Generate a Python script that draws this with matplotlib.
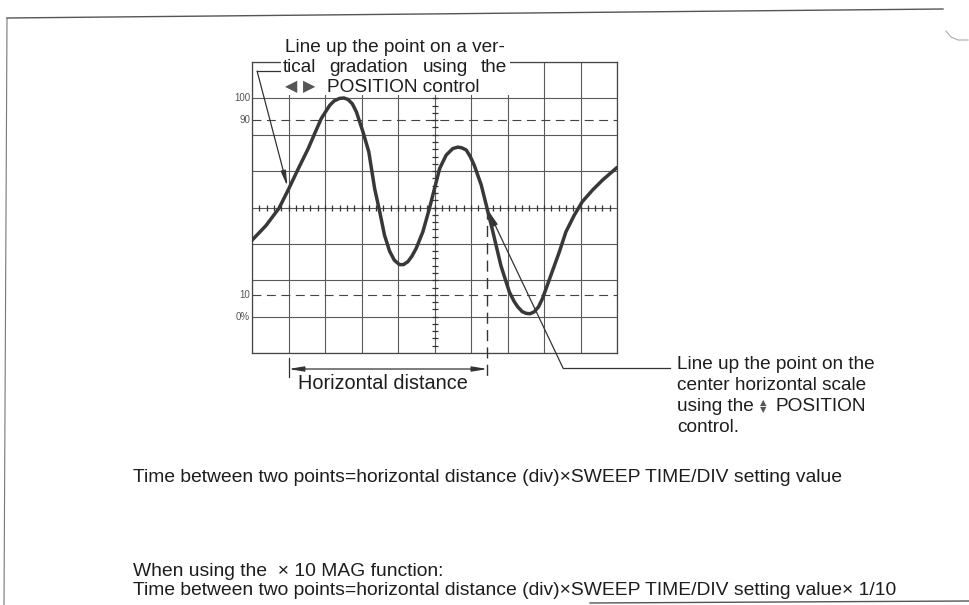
import numpy as np
import matplotlib
matplotlib.use("Agg")
import matplotlib.pyplot as plt
from matplotlib.patches import Rectangle

# ---------------- data (graticule divisions) ----------------
wave_x = [0.0, 0.38, 0.74, 1.0, 1.27, 1.54, 1.72, 1.90, 2.13, 2.25, 2.40, 2.52, 2.63,
          2.75, 2.86, 3.04, 3.20, 3.36, 3.50, 3.63, 3.77, 3.90, 4.04, 4.15, 4.27, 4.38,
          4.50, 4.68, 4.86, 5.0, 5.14, 5.32, 5.50, 5.64, 5.75, 5.87, 5.98, 6.09, 6.28,
          6.43, 6.60, 6.82, 7.05, 7.18, 7.28, 7.40, 7.51, 7.62, 7.73, 7.85, 7.96, 8.19,
          8.42, 8.60, 8.83, 9.05, 9.33, 9.60, 10.0]
wave_y = [3.10, 3.50, 3.98, 4.50, 5.07, 5.62, 6.04, 6.45, 6.81, 6.93, 7.00, 7.01, 6.97,
          6.85, 6.63, 6.08, 5.53, 4.52, 3.88, 3.24, 2.80, 2.55, 2.43, 2.43, 2.51, 2.66,
          2.88, 3.33, 3.97, 4.52, 5.07, 5.44, 5.62, 5.66, 5.64, 5.58, 5.40, 5.16, 4.62,
          4.02, 3.33, 2.40, 1.68, 1.42, 1.27, 1.14, 1.09, 1.08, 1.13, 1.27, 1.50, 2.14,
          2.78, 3.33, 3.79, 4.16, 4.48, 4.75, 5.10]

level_labels = ["100", "90", "10", "0%"]
level_pos = [7.0, 6.4, 1.6, 1.0]
dashed_levels = [6.4, 1.6]

point_a_x = 1.0     # point lined up on a vertical gradation
point_b_x = 6.45    # point on centre horizontal scale

# ---------------- figure ----------------
W, H = 969, 605
fig = plt.figure(figsize=(W / 100, H / 100), dpi=100)
fig.patch.set_facecolor("white")

FAM = ["Liberation Sans", "DejaVu Sans"]
TXT = "#1e1e1e"
FS = 13.7

# graticule axes (pixel box 252..617 x 62..353)
L, R, T, B = 252, 617, 62, 353
ax = fig.add_axes([L / W, (H - B) / H, (R - L) / W, (B - T) / H])
ax.set_zorder(1)
ax.set_xlim(0, 10)
ax.set_ylim(0, 8)
ax.set_xticks(range(11))
ax.set_yticks(range(9))
ax.tick_params(length=0, labelleft=False, labelbottom=False)
ax.grid(True, color="#5a5a5a", lw=0.8)
for s in ax.spines.values():
    s.set_color("#444444")
    s.set_linewidth(0.9)
ax.set_facecolor("white")

for lv in dashed_levels:
    ax.axhline(lv, color="#444444", lw=0.8, ls=(0, (8, 5)), zorder=2)

# centre-line sub-division ticks
sub = np.arange(0.2, 10.0, 0.2)
ax.plot(sub, np.full_like(sub, 4.0), ls="none", marker="|", ms=5, mew=0.9,
        color="#333333", zorder=2)
subv = np.arange(0.2, 8.0, 0.2)
ax.plot(np.full_like(subv, 5.0), subv, ls="none", marker="_", ms=5, mew=0.9,
        color="#333333", zorder=2)

for lab, yv in zip(level_labels, level_pos):
    ax.text(-0.05, yv, lab, ha="right", va="center", fontsize=7,
            color="#555555", family=FAM, clip_on=False)

# waveform
ax.plot(wave_x, wave_y, color="#383838", lw=2.5, solid_joinstyle="round",
        solid_capstyle="round", zorder=4)

# vertical dashed marker line at point B
ax.plot([point_b_x, point_b_x], [4.0, -0.66], color="#333333", lw=1.0,
        ls=(0, (8, 4.5)), clip_on=False, zorder=3)
# left end tick of horizontal distance
ax.plot([point_a_x, point_a_x], [-0.14, -0.66], color="#333333", lw=0.9,
        clip_on=False)
ax.annotate("", xy=(point_b_x, -0.44), xytext=(point_a_x, -0.44),
            xycoords="data", annotation_clip=False,
            arrowprops=dict(arrowstyle="<|-|>,head_length=0.9,head_width=0.15",
                            color="#333333", lw=0.9, shrinkA=0, shrinkB=0))
ax.text(3.58, -0.85, "Horizontal distance",
        ha="center", va="center", fontsize=14.3, color=TXT, family=FAM)

# pointer to point A (upper left label)
ax.plot([0.14, 0.82], [7.75, 7.75], color="#333333", lw=0.9, clip_on=False)
ax.annotate("", xy=(0.97, 4.58), xytext=(0.14, 7.75), annotation_clip=False,
            arrowprops=dict(arrowstyle="-|>,head_length=0.9,head_width=0.15",
                            color="#333333", lw=0.9, shrinkA=0, shrinkB=0))

# pointer to point B (lower right label)
ax.plot([8.52, 11.45], [-0.41, -0.41], color="#333333", lw=0.9, clip_on=False)
ax.annotate("", xy=(6.47, 3.92), xytext=(8.52, -0.41), annotation_clip=False,
            arrowprops=dict(arrowstyle="-|>,head_length=0.9,head_width=0.15",
                            color="#333333", lw=0.9, shrinkA=0, shrinkB=0))

# ---------------- overlay (page, labels) ----------------
ov = fig.add_axes([0, 0, 1, 1])
ov.set_zorder(2)
ov.set_xlim(0, W)
ov.set_ylim(H, 0)
ov.axis("off")
ov.patch.set_alpha(0)

# page border (slightly skewed scan)
ov.plot([7, 943], [18, 9], color="#555555", lw=1.0)
ov.plot([7, 4], [18, 605], color="#777777", lw=0.8)
ov.plot([590, 969], [603, 601], color="#555555", lw=1.0)
ov.plot([946, 951, 958, 968], [31, 37, 40, 40], color="#aaaaaa", lw=0.8)

# white block behind the upper label inside the graticule
ov.add_patch(Rectangle((281, 52), 229, 43, facecolor="white", edgecolor="none"))

# upper label
ov.text(285, 51.5, "Line up the point on a ver-", fontsize=FS, color=TXT,
        family=FAM, va="baseline")
ov.text(283, 71.5, "tical", fontsize=FS, color=TXT, family=FAM, va="baseline")
ov.text(329, 71.5, "gradation", fontsize=FS, color=TXT, family=FAM, va="baseline")
ov.text(423, 71.5, "using", fontsize=FS, color=TXT, family=FAM, va="baseline")
ov.text(507, 71.5, "the", fontsize=FS, color=TXT, family=FAM, va="baseline",
        ha="right")
ov.text(285, 91, "\u25c0", fontsize=11.5, color="#555555",
        family=["DejaVu Sans"], va="baseline")
ov.text(303, 91, "\u25b6", fontsize=11.5, color="#555555",
        family=["DejaVu Sans"], va="baseline")
ov.text(327, 91.5, "POSITION control", fontsize=FS, color=TXT, family=FAM,
        va="baseline")

# lower right label
ov.text(677, 369, "Line up the point on the", fontsize=FS, color=TXT,
        family=FAM, va="baseline")
ov.text(677, 390, "center horizontal scale", fontsize=FS, color=TXT,
        family=FAM, va="baseline")
ov.text(677, 411, "using the", fontsize=FS, color=TXT, family=FAM,
        va="baseline")
ov.text(763, 406, "\u25b2\n\u25bc", fontsize=6, color="#555555",
        family=["DejaVu Sans"], ha="center", va="center", linespacing=0.85)
ov.text(776, 411, "POSITION", fontsize=FS, color=TXT, family=FAM,
        va="baseline")
ov.text(677, 432, "control.", fontsize=FS, color=TXT, family=FAM,
        va="baseline")

# formula text
FS2 = 13.9
ov.text(133, 482, "Time between two points=horizontal distance (div)\u00d7SWEEP TIME/DIV setting value",
        fontsize=FS2, color=TXT, family=FAM, va="baseline")
ov.text(133, 576, "When using the  \u00d7 10 MAG function:", fontsize=FS2,
        color=TXT, family=FAM, va="baseline")
ov.text(133, 595, "Time between two points=horizontal distance (div)\u00d7SWEEP TIME/DIV setting value\u00d7 1/10",
        fontsize=FS2, color=TXT, family=FAM, va="baseline")

fig.savefig("out.png", dpi=100, facecolor="white")
